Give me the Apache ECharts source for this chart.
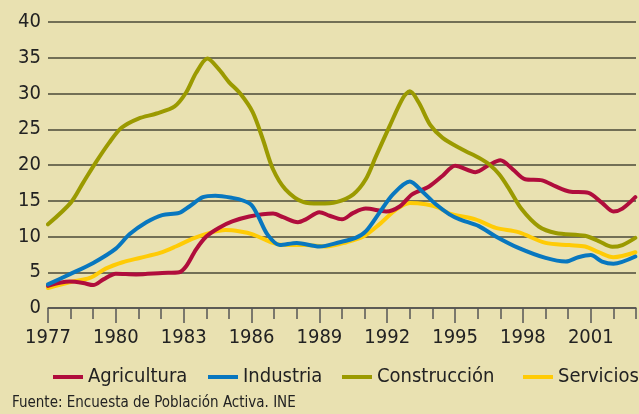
<!DOCTYPE html>
<html>
<head>
<meta charset="utf-8">
<script src="https://cdn.jsdelivr.net/npm/echarts@6/dist/echarts.min.js"></script>
<style>
  html, body { margin: 0; padding: 0; background: #e9e1b1; }
  #main { width: 639px; height: 414px; }
</style>
</head>
<body>
<div id="main"></div>
<script>
const years = []
for (let y = 1977; y <= 2003; y++) years.push(String(y))

const agricultura = [[1977.0,3.1],[1977.95,3.7],[1978.55,3.5],[1979.0,3.2],[1979.45,4.0],[1980.0,4.8],[1980.9,4.7],[1982.05,4.9],[1982.8,5.0],[1983.1,5.8],[1983.55,8.2],[1984.0,10.0],[1984.55,11.2],[1985.15,12.1],[1985.9,12.8],[1986.95,13.2],[1987.4,12.7],[1988.05,12.0],[1988.4,12.4],[1989.0,13.4],[1989.45,12.9],[1990.0,12.4],[1990.5,13.3],[1991.05,13.9],[1991.95,13.5],[1992.55,14.2],[1993.1,15.9],[1993.85,17.0],[1994.45,18.5],[1995.0,19.9],[1995.9,19.0],[1996.5,20.0],[1997.0,20.65],[1997.55,19.4],[1998.1,18.0],[1998.85,17.85],[1999.45,17.0],[2000.05,16.3],[2000.9,16.1],[2001.5,14.7],[2002.0,13.5],[2002.4,13.9],[2002.97,15.5]]

const industria = [[1977.0,3.3],[1977.95,4.7],[1979.0,6.3],[1980.0,8.3],[1980.6,10.3],[1981.35,12.0],[1982.05,13.0],[1982.8,13.3],[1983.25,14.2],[1983.85,15.5],[1984.4,15.7],[1985.15,15.4],[1985.65,15.0],[1986.0,14.4],[1986.3,12.8],[1986.7,10.3],[1987.25,8.8],[1988.0,9.1],[1989.0,8.6],[1989.9,9.2],[1990.6,9.8],[1991.05,10.7],[1991.65,13.3],[1992.25,15.9],[1993.0,17.7],[1993.55,16.3],[1994.15,14.5],[1994.75,13.1],[1995.2,12.4],[1996.05,11.45],[1996.8,10.0],[1997.8,8.4],[1999.0,7.0],[1999.9,6.5],[2000.45,7.1],[2001.0,7.4],[2001.5,6.5],[2002.0,6.2],[2002.97,7.2]]

const construccion = [[1977.0,11.7],[1978.0,14.7],[1978.55,17.5],[1979.1,20.3],[1979.7,23.1],[1980.25,25.2],[1981.0,26.5],[1981.8,27.2],[1982.6,28.2],[1983.1,30.1],[1983.55,32.9],[1984.05,34.9],[1984.55,33.4],[1985.0,31.6],[1985.5,30.0],[1986.05,27.4],[1986.5,23.6],[1986.95,19.4],[1987.5,16.6],[1988.3,14.8],[1989.0,14.6],[1989.75,14.8],[1990.5,15.9],[1991.05,18.0],[1991.5,21.2],[1992.1,25.4],[1992.7,29.4],[1993.0,30.3],[1993.4,28.7],[1993.9,25.6],[1994.45,23.8],[1995.3,22.2],[1996.05,21.0],[1996.5,20.1],[1996.95,18.7],[1997.4,16.6],[1997.95,13.8],[1998.7,11.4],[1999.45,10.5],[2000.75,10.1],[2001.35,9.35],[2001.95,8.55],[2002.4,8.8],[2002.97,9.8]]

const servicios = [[1977.0,2.8],[1977.95,3.6],[1978.85,4.2],[1979.55,5.5],[1980.3,6.4],[1981.05,7.0],[1981.95,7.7],[1982.65,8.6],[1983.4,9.7],[1984.15,10.5],[1984.85,10.9],[1985.5,10.7],[1986.05,10.3],[1986.95,9.1],[1987.4,8.8],[1988.4,8.8],[1989.3,8.6],[1990.2,9.2],[1990.95,10.0],[1991.65,11.7],[1992.4,13.8],[1993.0,14.7],[1993.7,14.5],[1994.3,14.0],[1994.75,13.2],[1995.9,12.4],[1996.8,11.2],[1997.8,10.6],[1999.0,9.1],[2000.05,8.8],[2000.75,8.6],[2001.35,7.8],[2002.0,7.1],[2002.97,7.8]]

const names = ['Agricultura', 'Industria', 'Construcción', 'Servicios']
const colors = ['#b00d3c', '#0877bf', '#9b9a00', '#ffcb05']
const legendLeft = [48, 203, 337, 518]

const font = "'Liberation Sans Narrow', 'DejaVu Sans Condensed', sans-serif"

const myChart = echarts.init(document.getElementById('main'))

const mkSeries = (name, data, color, z) => ({
  name: name,
  type: 'line',
  data: data,
  smooth: 0.3,
  symbol: 'none',
  z: z,
  color: color,
  lineStyle: { width: 4, color: color, cap: 'round', join: 'round' }
})

myChart.setOption({
  backgroundColor: '#e9e1b1',
  animation: false,
  textStyle: { fontFamily: font },
  grid: { left: 48, right: 2, top: 22, bottom: 106 },
  legend: names.map((n, i) => ({
    data: [n],
    left: legendLeft[i],
    top: 362,
    icon: 'rect',
    itemWidth: 30,
    itemHeight: 4,
    textStyle: { fontFamily: font, fontSize: 20, color: '#222' }
  })),
  xAxis: [
    {
      type: 'value',
      min: 1977,
      max: 2003,
      interval: 1,
      splitLine: { show: false },
      axisLine: { lineStyle: { color: '#555', width: 1.5 } },
      axisTick: { length: 11, lineStyle: { color: '#555', width: 1.5 } },
      axisLabel: {
        margin: 20,
        fontSize: 20,
        fontFamily: font,
        color: '#222',
        formatter: v => ((v - 1977) % 3 === 0 && v < 2003) ? String(v) : ''
      }
    },
    {
      type: 'category',
      data: years,
      boundaryGap: false,
      position: 'bottom',
      axisLine: { show: false },
      axisLabel: { show: false },
      axisTick: { interval: 2, length: 15, lineStyle: { color: '#555', width: 1.5 } },
      splitLine: { show: false }
    }
  ],
  yAxis: {
    type: 'value',
    min: 0,
    max: 40,
    interval: 5,
    axisLine: { show: false },
    axisTick: { show: false },
    splitLine: { lineStyle: { color: '#4a4838', width: 1.5 } },
    axisLabel: { margin: 7, fontSize: 20, fontFamily: font, color: '#222' }
  },
  graphic: [{
    type: 'text',
    left: 12,
    top: 396,
    style: { text: 'Fuente: Encuesta de Población Activa. INE', font: '15px ' + font, fill: '#222' }
  }],
  series: [
    mkSeries('Agricultura', agricultura, colors[0], 3),
    mkSeries('Industria', industria, colors[1], 4),
    mkSeries('Construcción', construccion, colors[2], 5),
    mkSeries('Servicios', servicios, colors[3], 2)
  ]
})
</script>
</body>
</html>
